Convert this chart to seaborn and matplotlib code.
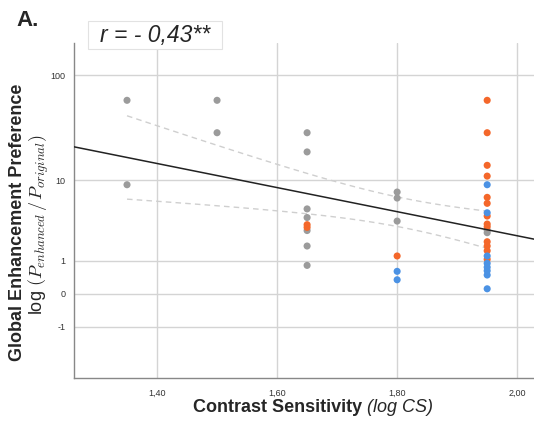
import matplotlib
matplotlib.use("Agg")
import matplotlib.pyplot as plt
import seaborn as sns
import numpy as np
import pandas as pd
from matplotlib.patches import Rectangle

# data - y is P_enhanced / P_original
gray_x = [1.35, 1.35, 1.50, 1.50,
          1.65, 1.65, 1.65, 1.65, 1.65, 1.65, 1.65,
          1.80, 1.80, 1.80,
          1.95, 1.95]
gray_y = [58.5, 9.0, 58.5, 29.0,
          29.0, 19.0, 5.0, 4.0, 2.8, 1.74, 0.82,
          7.57, 6.55, 3.64,
          2.84, 2.63]

orange_x = [1.65, 1.65,
            1.80,
            1.95, 1.95, 1.95, 1.95, 1.95, 1.95, 1.95, 1.95, 1.95, 1.95, 1.95, 1.95, 1.95]
orange_y = [3.3, 3.06,
            1.22,
            58.5, 29.0, 14.07, 11.0, 6.66, 5.75, 4.16, 3.36, 3.12, 2.0, 1.74, 1.48, 1.07]

blue_x = [1.80, 1.80,
          1.95, 1.95, 1.95, 1.95, 1.95, 1.95, 1.95, 1.95]
blue_y = [0.605, 0.343,
          9.0, 4.53, 1.22, 0.90, 0.75, 0.625, 0.485, 0.11]

group_names = ["Group 1", "Group 2", "Group 3"]
group_colors = ["#9b9b9b", "#f4672a", "#4b92e4"]

x_ticks = [1.40, 1.60, 1.80, 2.00]
x_tick_labels = ["1,40", "1,60", "1,80", "2,00"]
y_ticks = [-1, 0, 1, 10, 100]
y_tick_labels = ["-1", "0", "1", "10", "100"]
r_text = "r = - 0,43**"


# axis transform: sign(v) * log10(1 + |v|)
def fwd(v):
    v = np.asarray(v, dtype=float)
    return np.sign(v) * np.log10(1 + np.abs(v))


def inv(w):
    w = np.asarray(w, dtype=float)
    return np.sign(w) * (10 ** np.abs(w) - 1)


df = pd.DataFrame({
    "cs": gray_x + orange_x + blue_x,
    "pref": gray_y + orange_y + blue_y,
    "group": [group_names[0]] * len(gray_x) + [group_names[1]] * len(orange_x)
             + [group_names[2]] * len(blue_x),
})

sns.set_style("white")
plt.rcParams["font.family"] = ["Liberation Sans", "DejaVu Sans"]
plt.rcParams["mathtext.fontset"] = "cm"

fig = plt.figure(figsize=(5.34, 4.24), dpi=100)
ax = fig.add_axes([0.1386, 0.1085, 0.8614, 0.79])
ax.set_yscale("function", functions=(fwd, inv))

sns.scatterplot(
    data=df, x="cs", y="pref", hue="group",
    palette=dict(zip(group_names, group_colors)),
    s=26, linewidth=0, alpha=1, legend=False, ax=ax, zorder=3
)

# linear fit in transformed space + 95% CI of the mean
xv = df["cs"].values
wv = fwd(df["pref"].values)
n = len(xv)
b, a = np.polyfit(xv, wv, 1)
resid = wv - (a + b * xv)
s_err = np.sqrt(np.sum(resid ** 2) / (n - 2))
t_val = 2.02
xbar = xv.mean()
sxx = np.sum((xv - xbar) ** 2)

xlim = (1.2617, 2.028)
xl = np.array(xlim)
ax.plot(xl, inv(a + b * xl), color="#222222", lw=1.1, zorder=4)

xc = np.linspace(xv.min(), xv.max(), 50)
half = t_val * s_err * np.sqrt(1 / n + (xc - xbar) ** 2 / sxx)
ax.plot(xc, inv(a + b * xc + half), color="#cfcfcf", lw=1.0, ls=(0, (4, 3)), zorder=2)
ax.plot(xc, inv(a + b * xc - half), color="#cfcfcf", lw=1.0, ls=(0, (4, 3)), zorder=2)

ax.set_xlim(*xlim)
ax.set_ylim(-4.93, 198.5)
ax.set_xticks(x_ticks)
ax.set_xticklabels(x_tick_labels, fontsize=6.5, color="#333333")
ax.set_yticks(y_ticks)
ax.set_yticklabels(y_tick_labels, fontsize=6.5, color="#333333")
ax.tick_params(length=0)
ax.tick_params(axis="x", pad=8)
ax.tick_params(axis="y", pad=6)

ax.grid(True, color="#d4d4d4", lw=1.0)
ax.set_axisbelow(True)
for side in ["top", "right"]:
    ax.spines[side].set_visible(False)
for side in ["left", "bottom"]:
    ax.spines[side].set_color("#888888")
    ax.spines[side].set_linewidth(1.0)

ax.set_xlabel("")
ax.set_ylabel("")

# axis titles
fig.text(0.688, 0.038, "Contrast Sensitivity ", fontsize=13, fontweight="bold",
         ha="right", va="center")
fig.text(0.688, 0.038, "(log CS)", fontsize=13, style="italic",
         ha="left", va="center")
fig.text(0.033, 0.475, "Global Enhancement Preference", fontsize=13,
         fontweight="bold", rotation=90, ha="center", va="center")
fig.text(0.073, 0.47, r"log $(P_{enhanced}\,/\,P_{original})$", fontsize=13,
         rotation=90, ha="center", va="center")

# panel letter and correlation box
fig.text(0.03, 0.952, "A.", fontsize=16, fontweight="bold", ha="left", va="center")
fig.patches.append(Rectangle((0.1642, 0.8837), 0.2509, 0.0675, transform=fig.transFigure,
                             facecolor="white", edgecolor="#e2e2e2", lw=0.8, zorder=10))
fig.text(0.290, 0.9165, r_text, fontsize=16.5, style="italic", ha="center", va="center",
         zorder=11)

fig.savefig("out.png", dpi=100)
